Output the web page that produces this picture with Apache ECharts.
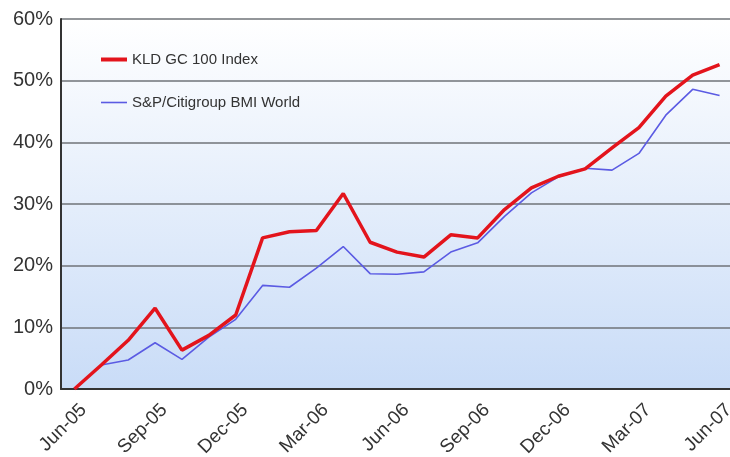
<!DOCTYPE html>
<html><head><meta charset="utf-8">
<script src="https://cdn.jsdelivr.net/npm/echarts@6/dist/echarts.min.js"></script>
<style>html,body{margin:0;padding:0;background:#fff}#c{width:730px;height:457px}</style>
</head><body><div id="c"></div>
<script>
const categories = ['Jun-05','Jul-05','Aug-05','Sep-05','Oct-05','Nov-05','Dec-05','Jan-06','Feb-06','Mar-06','Apr-06','May-06','Jun-06','Jul-06','Aug-06','Sep-06','Oct-06','Nov-06','Dec-06','Jan-07','Feb-07','Mar-07','Apr-07','May-07','Jun-07'];
const kld = [0,3.9,7.9,13.1,6.3,8.7,12.0,24.5,25.5,25.7,31.7,23.8,22.2,21.4,25.0,24.5,29.1,32.6,34.5,35.7,39.1,42.4,47.5,50.9,52.6];
const bmi = [0,3.9,4.7,7.5,4.8,8.4,11.3,16.8,16.5,19.6,23.1,18.7,18.6,19.0,22.2,23.7,28.0,31.8,34.4,35.8,35.5,38.2,44.4,48.6,47.6];
const seriesNames = ['KLD GC 100 Index','S&P/Citigroup BMI World'];
const yTicks = [0,10,20,30,40,50,60];

const chart = echarts.init(document.getElementById('c'), null, {renderer:'canvas'});
chart.setOption({
  animation:false,
  textStyle:{fontFamily:'Liberation Sans, Arial, sans-serif'},
  grid:{left:61, top:19, width:672, height:370, show:true, borderWidth:0, containLabel:false, outerBoundsMode:'none',
    backgroundColor:{type:'linear',x:0,y:0,x2:0,y2:1,colorStops:[{offset:0,color:'#ffffff'},{offset:1,color:'#c9dcf7'}]}},
  legend:{orient:'vertical', left:96, top:47, itemGap:28, itemWidth:26, itemHeight:14,
    textStyle:{fontSize:15, color:'#333', fontFamily:'Liberation Sans, Arial, sans-serif'},
    data:[{name:seriesNames[0], icon:'path://M0 0H26V4H0Z'},{name:seriesNames[1], icon:'path://M0 0H26V1.6H0Z'}]},
  xAxis:{type:'category', data:categories, boundaryGap:true,
    axisLine:{lineStyle:{color:'#333', width:2}},
    axisTick:{show:false},
    axisLabel:{interval:2, rotate:45, fontSize:19, color:'#333', margin:9, verticalAlign:'top', lineHeight:26},
    splitLine:{show:false}},
  yAxis:{type:'value', min:yTicks[0], max:yTicks[yTicks.length-1], interval:10,
    axisLine:{show:true, lineStyle:{color:'#333', width:2}},
    axisTick:{show:false},
    axisLabel:{formatter:'{value}%', fontSize:20, color:'#333', margin:8},
    splitLine:{lineStyle:{color:'#6f7378', width:1.6}}},
  series:[
    {name:seriesNames[0], type:'line', data:kld, symbol:'none', z:3,
      lineStyle:{color:'#e3141c', width:3.5}, itemStyle:{color:'#e3141c'}},
    {name:seriesNames[1], type:'line', data:bmi, symbol:'none', z:2,
      lineStyle:{color:'#5b5be3', width:1.6}, itemStyle:{color:'#5b5be3'}}
  ]
});
</script></body></html>
